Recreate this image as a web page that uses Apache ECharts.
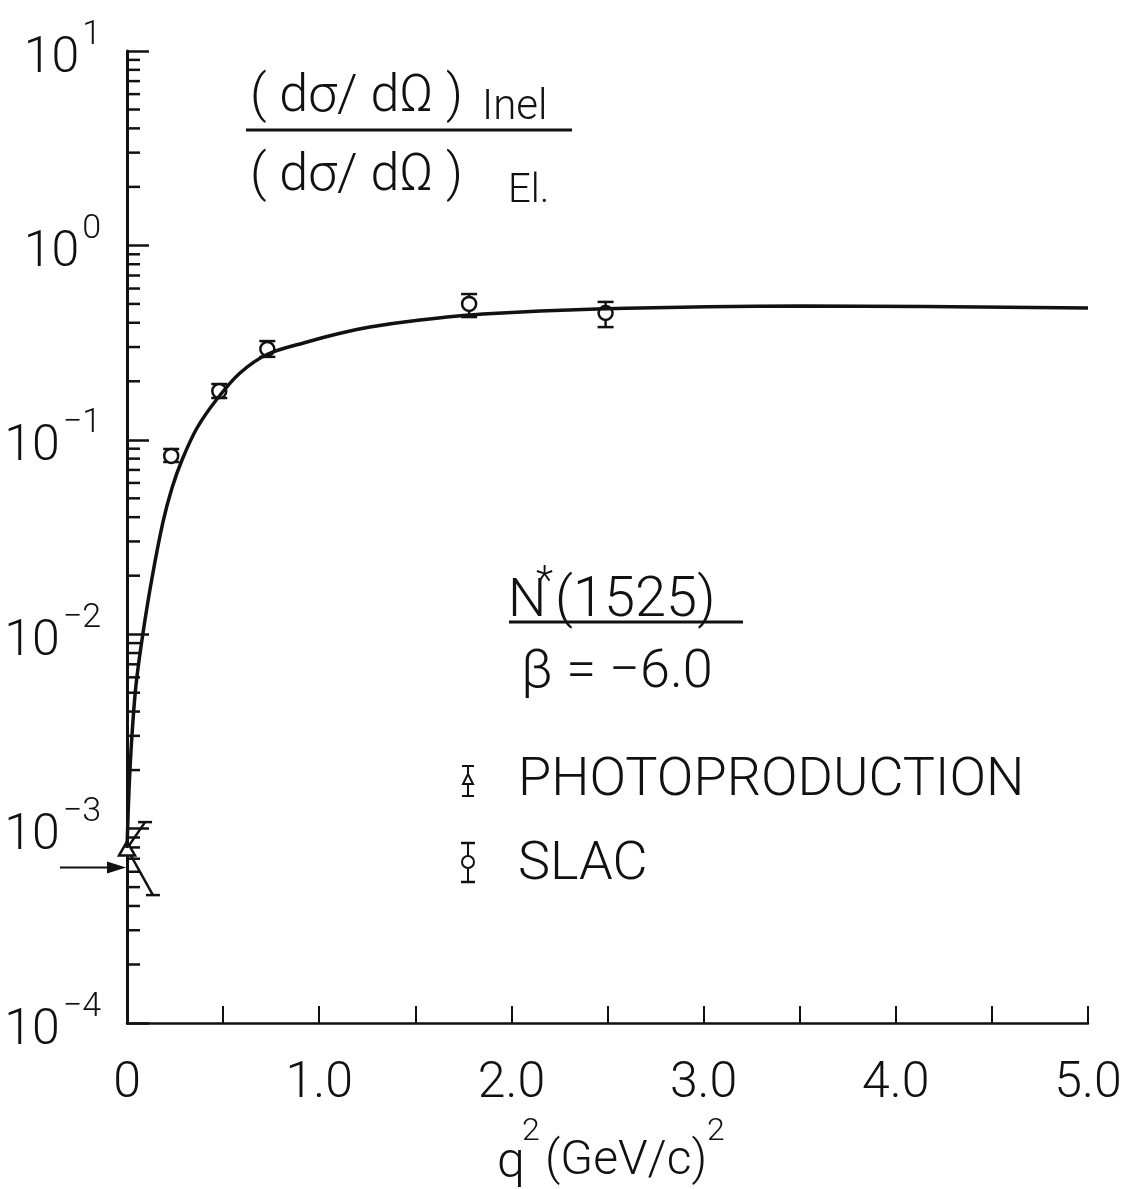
<!DOCTYPE html>
<html>
<head>
<meta charset="utf-8">
<script src="https://cdn.jsdelivr.net/npm/echarts@6/dist/echarts.min.js"></script>
<style>
  html, body { margin: 0; padding: 0; background: #fff; }
  #chart { width: 1127px; height: 1189px; }
</style>
</head>
<body>
<div id="chart"></div>
<script>
// fitted curve
const curveQ2 = [0, 0.0104, 0.026, 0.0468, 0.0832, 0.1301, 0.1873, 0.2341, 0.2862, 0.3642, 0.4683, 0.5879, 0.7336, 0.9365, 1.0926, 1.2643, 1.5245, 1.8522, 2.4454, 3.5016, 5.0]
const curveRatio = [7.95e-4, 1.58e-3, 3.03e-3, 5.48e-3, 0.01014, 0.01946, 0.03778, 0.0565, 0.0787, 0.115, 0.1622, 0.2207, 0.2763, 0.3185, 0.3501, 0.3803, 0.4133, 0.4437, 0.4709, 0.488, 0.4764]

// SLAC points
const slacQ2 = [0.23, 0.48, 0.73, 1.78, 2.49]
const slacRatio = [0.0826, 0.178, 0.293, 0.50, 0.449]
const slacLow = [0.0769, 0.164, 0.267, 0.428, 0.380]
const slacHigh = [0.0897, 0.1936, 0.322, 0.562, 0.512]

// photoproduction point, with its slanted error bar ends
const photoQ2 = [0]
const photoRatio = [7.9e-4]
const photoUpper = [[0.094, 1.08e-3]]
const photoLower = [[0.135, 4.55e-4]]

// arrow on the axis
const arrowRatio = 6.3e-4

// ticks
const yExponents = [-4, -3, -2, -1, 0, 1]
const minorMantissa = [2, 3, 4, 5, 6, 7, 8, 9]
const xLabels = { 0: '0', 1: '1.0', 2: '2.0', 3: '3.0', 4: '4.0', 5: '5.0' }

const FONT = 'Roboto, "Liberation Sans", sans-serif'
const INK = '#111'

const minorTicks = []
yExponents.slice(0, -1).forEach(e => {
  minorMantissa.forEach(m => minorTicks.push([0, m * Math.pow(10, e)]))
})

function txt (x, y, text, size, extra) {
  return {
    type: 'text',
    x: x,
    y: y,
    style: Object.assign({
      text: text,
      font: '300 ' + size + 'px ' + FONT,
      fill: INK,
      textAlign: 'left',
      textVerticalAlign: 'middle'
    }, extra || {})
  }
}
function hline (x1, x2, y, w) {
  return { type: 'line', shape: { x1: x1, y1: y, x2: x2, y2: y }, style: { stroke: INK, lineWidth: w || 3 } }
}

const chart = echarts.init(document.getElementById('chart'))
chart.setOption({
  backgroundColor: '#fff',
  animation: false,
  grid: { left: 127, right: 39, top: 51, bottom: 166 },
  xAxis: {
    type: 'value',
    min: 0,
    max: 5,
    interval: 0.5,
    axisLine: { onZero: false, lineStyle: { color: INK, width: 2.5 } },
    axisTick: { inside: true, length: 17, lineStyle: { color: INK, width: 2 } },
    splitLine: { show: false },
    axisLabel: {
      margin: 36,
      color: INK,
      fontSize: 50,
      fontFamily: FONT,
      fontWeight: 300,
      formatter: v => (xLabels[v] !== undefined ? xLabels[v] : '')
    }
  },
  yAxis: {
    type: 'log',
    logBase: 10,
    min: 1e-4,
    max: 10,
    axisLine: { lineStyle: { color: INK, width: 3 } },
    axisTick: { inside: true, length: 22, lineStyle: { color: INK, width: 2.5 } },
    splitLine: { show: false },
    axisLabel: {
      margin: 26,
      color: INK,
      fontFamily: FONT,
      formatter: v => {
        const e = Math.round(Math.log10(v))
        return '{b|10}{e|' + (e < 0 ? '\u2212' + (-e) : e) + '}'
      },
      rich: {
        b: { fontSize: 50, fontFamily: FONT, fontWeight: 300, color: INK, lineHeight: 66, verticalAlign: 'bottom' },
        e: { fontSize: 34, fontFamily: FONT, fontWeight: 300, color: INK, lineHeight: 66, verticalAlign: 'top', padding: [0, 0, 0, 3] }
      }
    }
  },
  series: [
    {
      name: 'minor',
      type: 'custom',
      silent: true,
      clip: false,
      data: minorTicks,
      renderItem: (params, api) => {
        const p = api.coord([api.value(0), api.value(1)])
        return { type: 'line', shape: { x1: p[0], y1: p[1], x2: p[0] + 13, y2: p[1] }, style: { stroke: INK, lineWidth: 2.5 } }
      }
    },
    {
      name: 'fit',
      type: 'line',
      smooth: 0.3,
      showSymbol: false,
      clip: false,
      lineStyle: { color: INK, width: 3.5 },
      data: curveQ2.map((q, i) => [q, curveRatio[i]])
    },
    {
      name: 'slacErr',
      type: 'custom',
      clip: false,
      data: slacQ2.map((q, i) => [q, slacLow[i], slacHigh[i]]),
      renderItem: (params, api) => {
        const lo = api.coord([api.value(0), api.value(1)])
        const hi = api.coord([api.value(0), api.value(2)])
        const c = 8
        return {
          type: 'group',
          children: [
            { type: 'line', shape: { x1: lo[0], y1: lo[1], x2: hi[0], y2: hi[1] }, style: { stroke: INK, lineWidth: 2.5 } },
            { type: 'line', shape: { x1: lo[0] - c, y1: lo[1], x2: lo[0] + c, y2: lo[1] }, style: { stroke: INK, lineWidth: 2.5 } },
            { type: 'line', shape: { x1: hi[0] - c, y1: hi[1], x2: hi[0] + c, y2: hi[1] }, style: { stroke: INK, lineWidth: 2.5 } }
          ]
        }
      }
    },
    {
      name: 'SLAC',
      type: 'scatter',
      symbol: 'circle',
      symbolSize: 14,
      clip: false,
      itemStyle: { color: '#fff', borderColor: INK, borderWidth: 2.5, opacity: 1 },
      data: slacQ2.map((q, i) => [q, slacRatio[i]])
    },
    {
      name: 'photoErr',
      type: 'custom',
      clip: false,
      data: photoQ2.map((q, i) => [q, photoRatio[i], photoUpper[i][0], photoUpper[i][1], photoLower[i][0], photoLower[i][1]]),
      renderItem: (params, api) => {
        const p = api.coord([api.value(0), api.value(1)])
        const up = api.coord([api.value(2), api.value(3)])
        const dn = api.coord([api.value(4), api.value(5)])
        const c = 7
        const s = { stroke: INK, lineWidth: 2.5 }
        return {
          type: 'group',
          children: [
            { type: 'line', shape: { x1: p[0], y1: p[1], x2: up[0], y2: up[1] }, style: s },
            { type: 'line', shape: { x1: up[0] - c, y1: up[1], x2: up[0] + c, y2: up[1] }, style: s },
            { type: 'line', shape: { x1: p[0], y1: p[1], x2: dn[0], y2: dn[1] }, style: s },
            { type: 'line', shape: { x1: dn[0] - c, y1: dn[1], x2: dn[0] + c, y2: dn[1] }, style: s }
          ]
        }
      }
    },
    {
      name: 'PHOTOPRODUCTION',
      type: 'scatter',
      symbol: 'triangle',
      symbolSize: [16, 14],
      clip: false,
      itemStyle: { color: '#fff', borderColor: INK, borderWidth: 2.5, opacity: 1 },
      data: photoQ2.map((q, i) => [q, photoRatio[i]])
    }
  ]
})

// annotations: arrow, ratio label, N* label, legend, axis name
const ay = chart.convertToPixel({ yAxisIndex: 0 }, arrowRatio)
const ax = chart.convertToPixel({ xAxisIndex: 0 }, 0)

chart.setOption({
  graphic: [
    { type: 'line', shape: { x1: 60, y1: ay, x2: ax - 14, y2: ay }, style: { stroke: INK, lineWidth: 2 } },
    { type: 'polygon', shape: { points: [[ax - 20, ay - 6], [ax - 1, ay], [ax - 20, ay + 6]] }, style: { fill: INK } },

    txt(250, 98, '( dσ/ dΩ )', 52),
    txt(482, 108, 'Inel', 42),
    hline(246, 572, 130),
    txt(250, 177, '( dσ/ dΩ )', 52),
    txt(508, 192, 'El.', 40),

    txt(508, 602, 'N', 54),
    txt(536, 584, '*', 40),
    txt(555, 602, '(1525)', 56),
    hline(509, 743, 622),
    txt(521, 673, 'β = −6.0', 54),

    // legend icons
    { type: 'line', shape: { x1: 468, y1: 766, x2: 468, y2: 796 }, style: { stroke: INK, lineWidth: 2 } },
    hline(462, 474, 766, 2),
    hline(462, 474, 796, 2),
    { type: 'polygon', shape: { points: [[468, 774], [463, 784], [473, 784]] }, style: { fill: '#fff', stroke: INK, lineWidth: 2 } },
    txt(518, 781, 'PHOTOPRODUCTION', 54),

    { type: 'line', shape: { x1: 468, y1: 843, x2: 468, y2: 882 }, style: { stroke: INK, lineWidth: 2 } },
    hline(461, 475, 843, 2.5),
    hline(461, 475, 882, 2.5),
    { type: 'circle', shape: { cx: 468, cy: 862, r: 6 }, style: { fill: '#fff', stroke: INK, lineWidth: 2 } },
    txt(518, 865, 'SLAC', 54),

    // x axis name
    txt(497, 1164, 'q', 50),
    txt(522, 1132, '2', 32),
    txt(545, 1162, '(GeV/c)', 48),
    txt(707, 1132, '2', 32)
  ]
})
</script>
</body>
</html>
